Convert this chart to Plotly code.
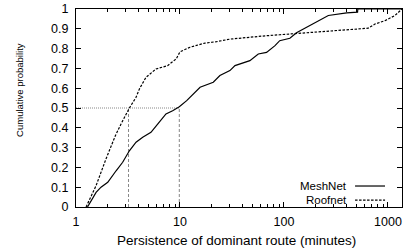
import plotly.graph_objects as go

# ---- data ----
meshnet_x = [1.29, 1.56, 1.74, 2.02, 2.43, 2.81, 3.26, 3.78, 4.38, 5.26, 6.1, 7.33, 8.5,
             9.85, 11.6, 13.4, 15.6, 20.9, 24.2, 30.2, 33.8, 47, 56.6, 68, 82, 91, 102,
             114, 132, 159, 206, 267, 401, 510, 513, 1365]
meshnet_y = [0, 0.074, 0.1, 0.125, 0.183, 0.226, 0.284, 0.327, 0.352, 0.377, 0.419, 0.47,
             0.486, 0.506, 0.537, 0.571, 0.605, 0.63, 0.664, 0.689, 0.714, 0.739, 0.773,
             0.781, 0.815, 0.84, 0.846, 0.852, 0.88, 0.903, 0.933, 0.967, 0.98, 0.984, 1.0, 1.0]

roofnet_x = [1.25, 1.56, 1.94, 2.39, 2.71, 3.26, 3.78, 4.07, 4.71, 5.88, 7.6, 9.2, 10,
             11.4, 12.5, 17.4, 22.5, 30.3, 43.8, 68, 91, 114, 185, 333, 646, 750, 935,
             1167, 1365]
roofnet_y = [0, 0.108, 0.242, 0.36, 0.419, 0.5, 0.554, 0.596, 0.655, 0.697, 0.714, 0.748,
             0.784, 0.798, 0.807, 0.828, 0.835, 0.848, 0.857, 0.865, 0.87, 0.874, 0.879,
             0.89, 0.903, 0.924, 0.941, 0.967, 1.0]

series_names = ["MeshNet", "Roofnet"]
medians = [9.85, 3.2]          # MeshNet, Roofnet
median_level = 0.5

x_tickvals = [1, 10, 100, 1000]
x_ticktext = ["1", "10", "100", "1000"]
y_tickvals = [0, 0.1, 0.2, 0.3, 0.4, 0.5, 0.6, 0.7, 0.8, 0.9, 1]
y_ticktext = ["0", "0.1", "0.2", "0.3", "0.4", "0.5", "0.6", "0.7", "0.8", "0.9", "1"]

x_title = "Persistence of dominant route (minutes)"
y_title = "Cumulative probability"

FONT = "Liberation Sans, Arial, sans-serif"
ROOF_DASH = "2.5px,1.5px"

fig = go.Figure()

# guide lines (median markers)
fig.add_trace(go.Scatter(x=[1, max(medians)], y=[median_level, median_level], mode="lines",
                         line=dict(color="#888888", width=1, dash="1px,1px"),
                         showlegend=False, hoverinfo="skip"))
for m in medians:
    fig.add_trace(go.Scatter(x=[m, m], y=[0, median_level], mode="lines",
                             line=dict(color="#888888", width=1, dash="3px,2px"),
                             showlegend=False, hoverinfo="skip"))

fig.add_trace(go.Scatter(x=meshnet_x, y=meshnet_y, mode="lines", name=series_names[0],
                         line=dict(color="black", width=1.2), showlegend=False))
fig.add_trace(go.Scatter(x=roofnet_x, y=roofnet_y, mode="lines", name=series_names[1],
                         line=dict(color="black", width=1.2, dash=ROOF_DASH),
                         showlegend=False))

# gnuplot-style key: text on the left, sample line on the right
key_text_x = 0.837
key_line = [0.856, 0.948]
key_rows = [0.106, 0.035]
key_dash = ["solid", ROOF_DASH]
for name, yy, dsh in zip(series_names, key_rows, key_dash):
    fig.add_annotation(x=key_text_x, y=yy, xref="paper", yref="paper", text=name,
                       showarrow=False, xanchor="right", yanchor="middle",
                       font=dict(family=FONT, size=11.5, color="black"))
    fig.add_shape(type="line", xref="paper", yref="paper", x0=key_line[0], x1=key_line[1],
                  y0=yy, y1=yy, line=dict(color="black", width=1.2, dash=dsh))

fig.add_annotation(x=0.12, y=-0.167, xref="paper", yref="paper", text=x_title,
                   showarrow=False, xanchor="left", yanchor="middle",
                   font=dict(family=FONT, size=13.5, color="black"))
fig.add_annotation(x=-0.172, y=0.591, xref="paper", yref="paper", text=y_title,
                   showarrow=False, xanchor="center", yanchor="middle", textangle=-90,
                   font=dict(family=FONT, size=9.5, color="black"))

axis_common = dict(showline=True, linecolor="black", linewidth=1.2, mirror="allticks",
                   ticks="inside", tickcolor="black", ticklen=5, tickwidth=1,
                   showgrid=False, zeroline=False, automargin=False,
                   tickfont=dict(family=FONT, size=12.5, color="black"))

fig.update_xaxes(type="log", range=[0, 3.135], tickvals=x_tickvals, ticktext=x_ticktext,
                 minor=dict(ticks="inside", ticklen=3, tickcolor="black", dtick="D1",
                            showgrid=False),
                 ticklabelstandoff=3, **axis_common)
fig.update_yaxes(range=[0, 1], tickvals=y_tickvals, ticktext=y_ticktext,
                 ticklabelstandoff=4, **axis_common)

fig.update_layout(width=410, height=251, margin=dict(l=76, r=8, t=9, b=44, autoexpand=False),
                  paper_bgcolor="white", plot_bgcolor="white",
                  font=dict(family=FONT, color="black"))

fig.write_html("out.html", config={"displayModeBar": False},
               post_script="document.body.style.margin='0';document.body.style.overflow='hidden';")
